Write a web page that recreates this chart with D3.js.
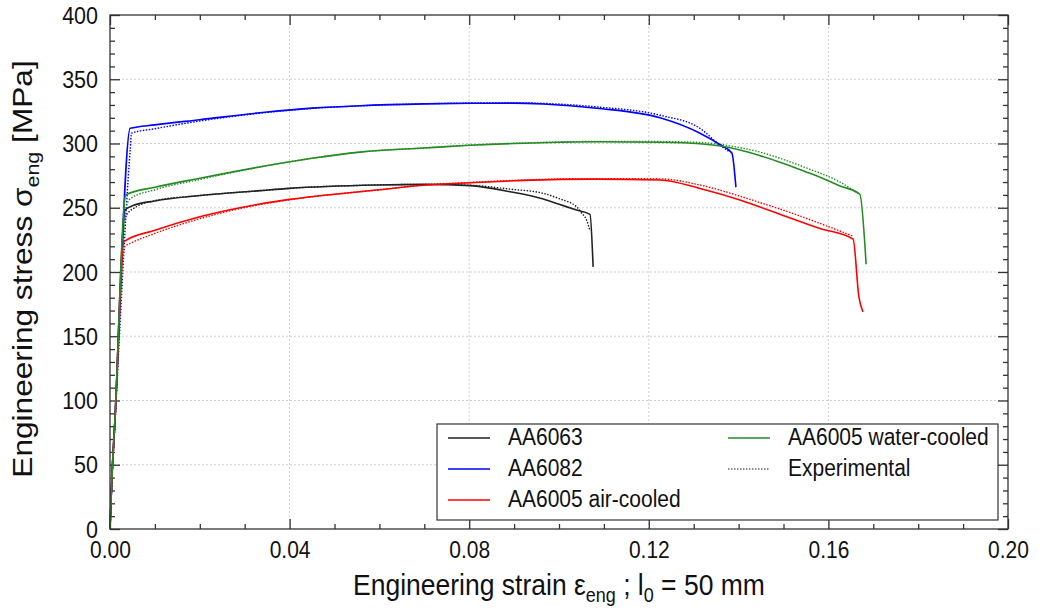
<!DOCTYPE html>
<html>
<head>
<meta charset="utf-8">
<script src="https://cdn.jsdelivr.net/npm/d3@7"></script>
<style>
  html, body { margin: 0; padding: 0; background: #fff; }
  svg { display: block; font-family: "Liberation Sans", Arial, sans-serif; }
</style>
</head>
<body>
<svg id="chart" width="1040" height="610"></svg>
<script>
// ---------------- data ----------------
const xTicksMajor = [0, 0.04, 0.08, 0.12, 0.16, 0.20];
const xTickLabels = ["0.00", "0.04", "0.08", "0.12", "0.16", "0.20"];
const yTicksMajor = [0, 50, 100, 150, 200, 250, 300, 350, 400];
const yTickLabels = ["0", "50", "100", "150", "200", "250", "300", "350", "400"];

// AA6063 (simulation, solid)
const aa6063Strain = [0, 0.0004, 0.0011, 0.0033, 0.005, 0.01, 0.02, 0.0334, 0.04, 0.0594, 0.0705, 0.0802, 0.0891, 0.0965, 0.1002, 0.1039, 0.1069, 0.1076];
const aa6063Stress = [0, 38, 85, 248, 251.5, 255.3, 259.5, 263.3, 265.1, 267.7, 268.2, 267.2, 262.5, 256.8, 252.5, 248.2, 244.9, 204];
// AA6063 experimental (dotted)
const aa6063ExpStrain = [0, 0.0004, 0.0011, 0.0030, 0.0036, 0.006, 0.01, 0.02, 0.0334, 0.04, 0.0594, 0.0705, 0.0802, 0.0891, 0.0965, 0.1005, 0.1039, 0.105, 0.1062, 0.1069];
const aa6063ExpStress = [0, 36, 82, 230, 244, 251, 255.5, 259.5, 263.3, 265.1, 267.7, 268.2, 267.5, 264.5, 261.2, 256.5, 250.8, 246, 240, 232];

// AA6082
const aa6082Strain = [0, 0.0004, 0.0011, 0.0045, 0.01, 0.02, 0.0345, 0.045, 0.0557, 0.07, 0.0802, 0.09, 0.0965, 0.1084, 0.1225, 0.1314, 0.1359, 0.1385, 0.1394];
const aa6082Stress = [0, 38, 85, 311.8, 314.5, 318.5, 324.3, 327.5, 329.4, 330.8, 331.3, 331.4, 330.7, 327.4, 320, 308, 299, 292.6, 266];
const aa6082ExpStrain = [0, 0.0004, 0.0011, 0.0045, 0.0048, 0.01, 0.02, 0.0345, 0.045, 0.0557, 0.07, 0.0802, 0.09, 0.0965, 0.1084, 0.1225, 0.1314, 0.1359, 0.138];
const aa6082ExpStress = [0, 36, 82, 295, 308, 311.5, 317.5, 324, 327.3, 329.3, 330.9, 331.5, 331.6, 331.2, 328.5, 322, 311.8, 298.5, 293.5];

// AA6005 air-cooled
const aa6005aStrain = [0, 0.0004, 0.0011, 0.0031, 0.01, 0.02, 0.0334, 0.04, 0.0594, 0.0705, 0.0802, 0.09, 0.1002, 0.1076, 0.1225, 0.1314, 0.1403, 0.1448, 0.1492, 0.158, 0.1655, 0.1668, 0.1677];
const aa6005aStress = [0, 38, 85, 223.6, 232.5, 243, 252.9, 256.5, 263.8, 267.7, 269.5, 271, 272.1, 272.3, 271.6, 265, 256, 250.5, 245, 234, 225.6, 180.5, 169];
const aa6005aExpStrain = [0, 0.0004, 0.0011, 0.0033, 0.005, 0.01, 0.02, 0.0334, 0.04, 0.0594, 0.0705, 0.0802, 0.09, 0.1002, 0.1076, 0.1225, 0.1314, 0.1403, 0.1448, 0.1492, 0.158, 0.1654];
const aa6005aExpStress = [0, 36, 82, 219.7, 223, 230, 241.5, 252.5, 256.2, 263.8, 267.8, 269.7, 271.3, 272.4, 272.7, 272.5, 267.7, 259, 254, 249, 238, 228];

// AA6005 water-cooled
const aa6005wStrain = [0, 0.0004, 0.0011, 0.0035, 0.01, 0.02, 0.0345, 0.045, 0.0557, 0.07, 0.0802, 0.09, 0.1002, 0.1084, 0.1225, 0.1314, 0.1403, 0.1448, 0.1492, 0.1559, 0.158, 0.1626, 0.167, 0.1684];
const aa6005wStress = [0, 38, 85, 260, 266, 273, 282.5, 288.5, 293.3, 296.5, 298.6, 300, 301, 301.4, 301, 299.8, 295, 290.5, 285.5, 276.8, 274, 267, 260.5, 206];
const aa6005wExpStrain = [0, 0.0004, 0.0011, 0.0036, 0.0045, 0.01, 0.02, 0.0345, 0.045, 0.0557, 0.07, 0.0802, 0.09, 0.1002, 0.1084, 0.1225, 0.1314, 0.1403, 0.1448, 0.1492, 0.1559, 0.1626, 0.1666];
const aa6005wExpStress = [0, 36, 82, 250, 257, 264, 272, 282.5, 288.5, 293.3, 296.6, 298.8, 300.2, 301.2, 301.6, 301.5, 300.8, 296.8, 293.3, 288.5, 279.9, 270, 261];

const seriesNames = ["AA6063", "AA6082", "AA6005 air-cooled", "AA6005 water-cooled"];
const seriesColors = ["#222222", "#0000ff", "#ff0000", "#258c25"];

// ---------------- layout ----------------
const svg = d3.select("#chart");
const L = 110, R = 1008, T = 15, B = 529;
const x = d3.scaleLinear().domain([0, 0.2]).range([L, R]);
const y = d3.scaleLinear().domain([0, 400]).range([B, T]);

const frameColor = "#333";

// grid
const grid = svg.append("g");
grid.selectAll("line.gx").data(xTicksMajor.slice(1, -1)).join("line")
  .attr("x1", d => x(d)).attr("x2", d => x(d)).attr("y1", T).attr("y2", B)
  .attr("stroke", "#cfcfcf").attr("stroke-width", 1).attr("stroke-dasharray", "2,2");
grid.selectAll("line.gy").data(yTicksMajor.slice(1, -1)).join("line")
  .attr("x1", L).attr("x2", R).attr("y1", d => y(d)).attr("y2", d => y(d))
  .attr("stroke", "#cfcfcf").attr("stroke-width", 1).attr("stroke-dasharray", "2,2");

// minor tick values
const xMinor = d3.range(0, 0.2001, 0.01).map(v => +v.toFixed(3)).filter(v => !xTicksMajor.some(m => Math.abs(m - v) < 1e-9));
const yMinor = d3.range(0, 401, 10).filter(v => v % 50 !== 0);

function styleAxis(g) {
  g.select(".domain").remove();
  g.selectAll(".tick line").attr("stroke", frameColor).attr("stroke-width", 1.3);
}

// bottom
const bAxis = svg.append("g").attr("transform", `translate(0,${B})`)
  .call(d3.axisBottom(x).tickValues(xTicksMajor).tickSizeInner(-10).tickSizeOuter(0)
    .tickFormat((d, i) => xTickLabels[i]));
styleAxis(bAxis);
bAxis.selectAll(".tick text").attr("y", null).attr("dy", null)
  .attr("transform", "translate(0,29) scale(1,1.15)")
  .attr("font-size", 21).attr("fill", "#111").attr("font-family", "Liberation Sans, Arial, sans-serif");
svg.append("g").attr("transform", `translate(0,${B})`)
  .call(d3.axisBottom(x).tickValues(xMinor).tickSizeInner(-5).tickSizeOuter(0).tickFormat(""))
  .call(styleAxis);
// top
svg.append("g").attr("transform", `translate(0,${T})`)
  .call(d3.axisTop(x).tickValues(xTicksMajor).tickSizeInner(-10).tickSizeOuter(0).tickFormat(""))
  .call(styleAxis);
svg.append("g").attr("transform", `translate(0,${T})`)
  .call(d3.axisTop(x).tickValues(xMinor).tickSizeInner(-5).tickSizeOuter(0).tickFormat(""))
  .call(styleAxis);
// left
const lAxis = svg.append("g").attr("transform", `translate(${L},0)`)
  .call(d3.axisLeft(y).tickValues(yTicksMajor).tickSizeInner(-10).tickSizeOuter(0)
    .tickFormat((d, i) => yTickLabels[i]));
styleAxis(lAxis);
lAxis.selectAll(".tick text").attr("x", null).attr("dy", null)
  .attr("text-anchor", "end")
  .attr("transform", "translate(-12,8) scale(1,1.15)")
  .attr("font-size", 21.5).attr("fill", "#111").attr("font-family", "Liberation Sans, Arial, sans-serif");
svg.append("g").attr("transform", `translate(${L},0)`)
  .call(d3.axisLeft(y).tickValues(yMinor).tickSizeInner(-5).tickSizeOuter(0).tickFormat(""))
  .call(styleAxis);
// right
svg.append("g").attr("transform", `translate(${R},0)`)
  .call(d3.axisRight(y).tickValues(yTicksMajor).tickSizeInner(-10).tickSizeOuter(0).tickFormat(""))
  .call(styleAxis);
svg.append("g").attr("transform", `translate(${R},0)`)
  .call(d3.axisRight(y).tickValues(yMinor).tickSizeInner(-5).tickSizeOuter(0).tickFormat(""))
  .call(styleAxis);

// ---------------- curves ----------------
const zip = (xs, ys) => xs.map((v, i) => [v, ys[i]]);
const line = d3.line().x(d => x(d[0])).y(d => y(d[1])).curve(d3.curveMonotoneX);
const sims = [
  zip(aa6063Strain, aa6063Stress),
  zip(aa6082Strain, aa6082Stress),
  zip(aa6005aStrain, aa6005aStress),
  zip(aa6005wStrain, aa6005wStress)
];
const exps = [
  zip(aa6063ExpStrain, aa6063ExpStress),
  zip(aa6082ExpStrain, aa6082ExpStress),
  zip(aa6005aExpStrain, aa6005aExpStress),
  zip(aa6005wExpStrain, aa6005wExpStress)
];
const curves = svg.append("g");
exps.forEach((d, i) => {
  curves.append("path").attr("d", line(d)).attr("fill", "none")
    .attr("stroke", seriesColors[i]).attr("stroke-width", 1.4)
    .attr("stroke-dasharray", "1.5,1.5");
});
sims.forEach((d, i) => {
  curves.append("path").attr("d", line(d)).attr("fill", "none")
    .attr("stroke", seriesColors[i]).attr("stroke-width", 1.6)
    .attr("stroke-linejoin", "round");
});

// frame
svg.append("rect").attr("x", L).attr("y", T).attr("width", R - L).attr("height", B - T)
  .attr("fill", "none").attr("stroke", frameColor).attr("stroke-width", 1.3);

// ---------------- legend ----------------
const lg = svg.append("g");
lg.append("rect").attr("x", 437).attr("y", 424).attr("width", 561).attr("height", 96)
  .attr("fill", "#fff").attr("stroke", frameColor).attr("stroke-width", 1.2);
const legendItems = [
  { label: seriesNames[0], color: seriesColors[0], dash: null, col: 0, row: 0 },
  { label: seriesNames[1], color: seriesColors[1], dash: null, col: 0, row: 1 },
  { label: seriesNames[2], color: seriesColors[2], dash: null, col: 0, row: 2 },
  { label: seriesNames[3], color: seriesColors[3], dash: null, col: 1, row: 0 },
  { label: "Experimental", color: "#222", dash: "1.5,1.5", col: 1, row: 1 }
];
const colX = [448, 728];
const rowY = [438, 469, 500];
legendItems.forEach(it => {
  const lx = colX[it.col], ly = rowY[it.row];
  const ln = lg.append("line").attr("x1", lx).attr("x2", lx + 42).attr("y1", ly).attr("y2", ly)
    .attr("stroke", it.color).attr("stroke-width", 1.5);
  if (it.dash) ln.attr("stroke-dasharray", it.dash).attr("stroke-width", 1.2);
  lg.append("text").attr("transform", `translate(${lx + 60},${ly + 7}) scale(1,1.13)`)
    .attr("font-size", 21).attr("fill", "#111").text(it.label);
});

// ---------------- axis titles ----------------
const xt = svg.append("text").attr("transform", "translate(559,595) scale(1,1.13)")
  .attr("text-anchor", "middle").attr("font-size", 26.5).attr("fill", "#111");
xt.append("tspan").text("Engineering strain ε");
xt.append("tspan").attr("font-size", 18).attr("dy", 6).text("eng");
xt.append("tspan").attr("dy", -6).text(" ; l");
xt.append("tspan").attr("font-size", 18).attr("dy", 6).text("0");
xt.append("tspan").attr("dy", -6).text(" = 50 mm");

const yt = svg.append("text").attr("transform", "translate(32,269) rotate(-90) scale(1.13,1)")
  .attr("text-anchor", "middle").attr("font-size", 28).attr("fill", "#111");
yt.append("tspan").text("Engineering stress σ");
yt.append("tspan").attr("font-size", 19).attr("dy", 7).text("eng");
yt.append("tspan").attr("dy", -7).text(" [MPa]");
</script>
</body>
</html>
